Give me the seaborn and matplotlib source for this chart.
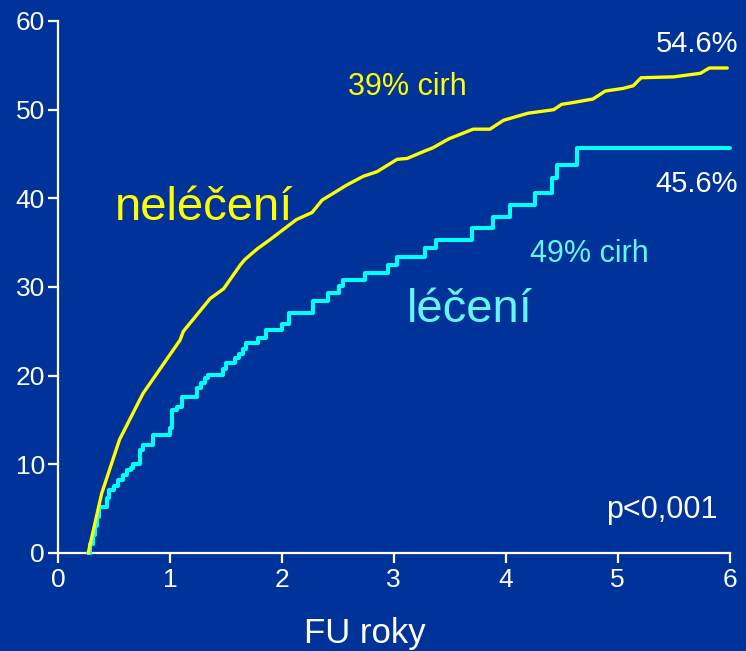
import matplotlib
matplotlib.use("Agg")
import matplotlib.pyplot as plt
import seaborn as sns
import pandas as pd

# ---- data ----
untreated_years = [0.27, 0.39, 0.55, 0.76, 1.09, 1.12, 1.36, 1.48, 1.63, 1.67, 1.78, 1.89,
                   2.13, 2.27, 2.36, 2.49, 2.58, 2.73, 2.85, 3.03, 3.12, 3.27, 3.35,
                   3.49, 3.71, 3.86, 3.98, 4.20, 4.43, 4.50, 4.60, 4.78, 4.89, 5.05,
                   5.14, 5.21, 5.50, 5.74, 5.82, 5.98]
untreated_pct = [0.0, 6.7, 12.8, 18.0, 24.0, 25.0, 28.7, 29.8, 32.5, 33.1, 34.3, 35.3,
                 37.6, 38.4, 39.8, 40.8, 41.5, 42.5, 43.0, 44.4, 44.5, 45.3, 45.7,
                 46.7, 47.8, 47.8, 48.8, 49.6, 50.0, 50.6, 50.8, 51.2, 52.1, 52.4,
                 52.7, 53.6, 53.7, 54.1, 54.7, 54.7]

treated_years = [0.27, 0.29, 0.31, 0.33, 0.35, 0.37, 0.44, 0.46, 0.50, 0.54, 0.58, 0.62,
                 0.65, 0.67, 0.73, 0.76, 0.85, 1.00, 1.02, 1.06, 1.11, 1.24, 1.28,
                 1.31, 1.34, 1.47, 1.50, 1.58, 1.62, 1.65, 1.68, 1.79, 1.86, 2.00,
                 2.06, 2.28, 2.41, 2.51, 2.55, 2.74, 2.95, 3.03, 3.28, 3.38, 3.70,
                 3.89, 4.04, 4.26, 4.41, 4.46, 4.64, 6.00]
treated_pct = [0.0, 1.0, 2.0, 3.1, 4.1, 5.2, 6.2, 7.1, 7.6, 8.2, 8.8, 9.4,
               9.6, 10.0, 11.6, 12.2, 13.3, 14.1, 16.1, 16.5, 17.6, 18.6, 19.2,
               19.7, 20.1, 20.8, 21.4, 22.0, 22.5, 23.0, 23.7, 24.2, 25.2, 25.8,
               27.1, 28.4, 29.3, 30.1, 30.8, 31.6, 32.5, 33.4, 34.4, 35.3, 36.6,
               37.9, 39.3, 40.6, 42.3, 43.8, 45.7, 45.7]

x_ticks = [0, 1, 2, 3, 4, 5, 6]
y_ticks = [0, 10, 20, 30, 40, 50, 60]

BG = "#003399"
YEL = "#FFFF00"
CYA = "#00FFFF"
CYA_TXT = "#66F5F5"
WHITE = "#FFFFFF"

sns.set_style("white")
plt.rcParams['font.family'] = ['Liberation Sans', 'DejaVu Sans']

fig = plt.figure(figsize=(7.46, 6.51), dpi=100, facecolor=BG)
ax = fig.add_axes([58 / 746, 98 / 651, 671.5 / 746, 532 / 651])
ax.set_facecolor(BG)

df_u = pd.DataFrame({"years": untreated_years, "pct": untreated_pct})
df_t = pd.DataFrame({"years": treated_years, "pct": treated_pct})

sns.lineplot(data=df_t, x="years", y="pct", ax=ax, color=CYA, linewidth=2.9,
             estimator=None, drawstyle="steps-post", clip_on=False, zorder=3)
sns.lineplot(data=df_u, x="years", y="pct", ax=ax, color=YEL, linewidth=2.4,
             estimator=None, clip_on=False, zorder=4)

ax.set_xlim(0, 6)
ax.set_ylim(0, 60)
ax.set_xticks(x_ticks)
ax.set_yticks(y_ticks)
ax.set_xticklabels([str(v) for v in x_ticks])
ax.set_yticklabels([str(v) for v in y_ticks])

for s in ["top", "right"]:
    ax.spines[s].set_visible(False)
for s in ["left", "bottom"]:
    ax.spines[s].set_color(WHITE)
    ax.spines[s].set_linewidth(1.6)

ax.tick_params(axis="both", colors=WHITE, labelcolor=WHITE, direction="out",
               length=7.5, width=1.6, labelsize=19, bottom=True, left=True,
               top=False, right=False)
ax.tick_params(axis="y", pad=2)
ax.tick_params(axis="x", pad=3)

ax.set_xlabel("FU roky", color=WHITE, fontsize=25)
ax.set_ylabel("")
ax.xaxis.label.set_va("baseline")
ax.xaxis.set_label_coords((365 - 58) / 671.5, (553 - 643) / 532)

ax.text(1.305, 37.55, "neléčení", color=YEL, fontsize=34, ha="center", va="baseline")
ax.text(3.68, 26.05, "léčení", color=CYA_TXT, fontsize=34, ha="center", va="baseline")
ax.text(3.12, 51.65, "39% cirh", color=YEL, fontsize=22, ha="center", va="baseline")
ax.text(4.75, 32.8, "49% cirh", color=CYA_TXT, fontsize=22, ha="center", va="baseline")
ax.text(6.077, 56.47, "54.6%", color=WHITE, fontsize=21, ha="right", va="baseline", clip_on=False)
ax.text(6.077, 40.75, "45.6%", color=WHITE, fontsize=21, ha="right", va="baseline", clip_on=False)
ax.text(5.89, 3.95, "p<0,001", color=WHITE, fontsize=22, ha="right", va="baseline")

fig.savefig("out.png", dpi=100, facecolor=BG)
